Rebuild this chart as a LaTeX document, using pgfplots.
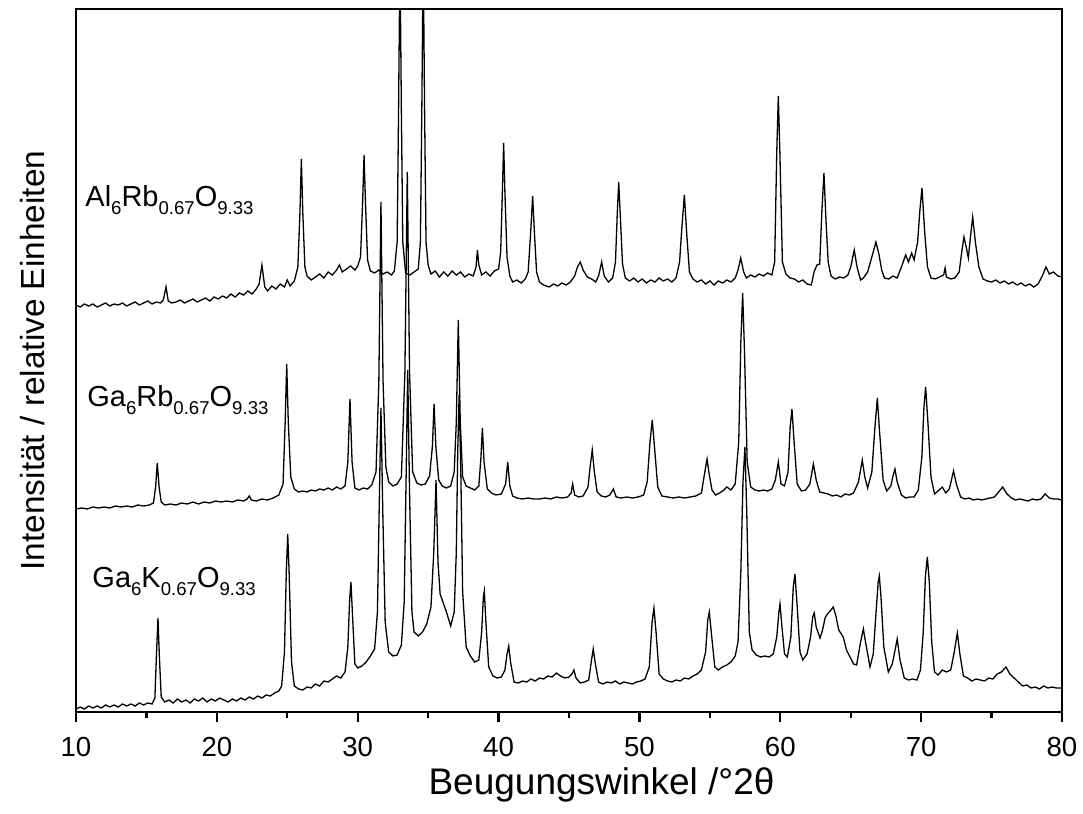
\documentclass[border=0pt]{standalone}
\usepackage{pgfplots}
\pgfplotsset{compat=1.18}
\usepackage{fontspec}
\setmainfont{Liberation Sans}
\newcommand\sub[1]{\raisebox{-4pt}{\fontsize{9.3}{11}\selectfont #1}}
\begin{document}
\begin{tikzpicture}
\begin{axis}[
  width=493pt, height=351.5pt, scale only axis,
  xmin=10, xmax=80, ymin=0, ymax=703,
  xtick={10,20,...,80}, minor xtick={15,25,...,75},
  ytick=\empty,
  xtick pos=bottom, tick align=outside,
  major tick length=5pt, minor tick length=3.2pt,
  axis line style={line width=1.2pt},
  every tick/.style={line width=1.2pt, black},
  tick label style={font=\fontsize{13.8}{16}\selectfont},
  xticklabel style={yshift=-4pt},
  /pgf/number format/assume math mode=true,
  xlabel={Beugungswinkel /°2θ},
  ylabel={Intensität / relative Einheiten},
  xlabel style={font=\fontsize{18.5}{21}\selectfont, at={(axis description cs:0.533,-0.069)}, anchor=north},
  ylabel style={font=\fontsize{16.7}{20}\selectfont, at={(axis description cs:-0.024,0.5)}, anchor=south},
  clip=true,
]
\coordinate (bl) at (rel axis cs:0,0);
\coordinate (tr) at (rel axis cs:1,1);
% Al6Rb0.67O9.33
\addplot[black, no markers, line width=0.65pt] table {
10.0 407
10.3 405
10.6 408
10.9 406
11.2 408
11.5 405
11.8 407
12.1 409
12.4 406
12.7 408
13.0 407
13.3 409
13.6 406
13.9 408
14.2 410
14.5 407
14.8 409
15.1 411
15.4 408
15.7 410
16.0 409
16.2 412
16.39 425
16.55 411
16.8 409
17.1 410
17.4 412
17.7 409
18.0 411
18.3 413
18.6 410
18.9 412
19.2 414
19.5 411
19.8 415
20.1 413
20.4 416
20.7 414
21.0 418
21.3 415
21.6 419
21.9 417
22.2 421
22.5 418
22.8 423
23.0 428
23.2 447
23.4 425
23.6 421
23.9 426
24.2 423
24.5 428
24.8 425
25.0 432
25.2 426
25.5 431
25.75 445
25.9 500
26.0 553
26.1 500
26.25 445
26.4 436
26.7 432
27.0 435
27.3 438
27.6 434
27.9 440
28.2 437
28.5 442
28.7 447
28.9 440
29.2 443
29.5 446
29.8 442
30.0 446
30.2 455
30.35 510
30.45 557
30.55 510
30.7 452
30.9 441
31.2 439
31.5 442
31.8 438
32.1 440
32.4 437
32.6 441
32.8 470
32.9 600
33.0 760
33.1 600
33.2 470
33.4 439
33.7 437
34.0 440
34.3 443
34.45 470
34.55 600
34.65 760
34.75 600
34.85 470
35.0 447
35.2 438
35.5 441
35.8 435
36.1 440
36.4 436
36.7 441
37.0 437
37.3 440
37.6 435
37.9 438
38.2 436
38.4 445
38.5 462
38.6 447
38.8 437
39.1 440
39.4 436
39.7 441
40.0 443
40.15 460
40.27 520
40.36 569
40.45 520
40.6 455
40.8 436
41.0 430
41.3 432
41.6 429
41.9 433
42.1 440
42.28 480
42.42 516
42.55 478
42.7 440
42.9 430
43.2 427
43.6 425
43.9 428
44.2 426
44.5 429
44.8 427
45.1 430
45.4 436
45.6 445
45.8 450
46.0 442
46.3 435
46.6 433
46.9 430
47.1 436
47.32 450
47.5 436
47.8 430
48.1 434
48.3 450
48.43 500
48.53 530
48.63 500
48.8 448
49.0 434
49.3 431
49.6 434
49.9 430
50.2 433
50.5 429
50.8 432
51.1 430
51.4 434
51.7 431
52.0 433
52.3 430
52.6 434
52.85 450
53.0 482
53.19 517
53.35 480
53.55 440
53.8 433
54.1 430
54.4 432
54.7 428
55.0 431
55.3 427
55.6 431
55.9 429
56.2 432
56.5 430
56.8 434
57.0 442
57.19 454
57.4 440
57.6 434
57.9 437
58.2 435
58.5 438
58.8 436
59.1 439
59.4 437
59.6 450
59.75 560
59.86 616
59.97 560
60.15 450
60.4 438
60.7 434
61.0 433
61.3 430
61.6 432
61.9 428
62.2 427
62.4 440
62.6 447
62.8 448
62.95 500
63.1 539
63.25 490
63.4 450
63.6 436
63.9 433
64.2 435
64.5 434
64.8 437
65.0 445
65.25 462
65.45 445
65.7 432
65.9 434
66.2 440
66.5 455
66.79 470
67.0 458
67.2 442
67.4 434
67.7 433
68.0 436
68.3 434
68.6 445
68.9 457
69.1 450
69.33 459
69.5 452
69.75 470
69.9 500
70.06 524
70.25 480
70.45 445
70.7 434
71.0 433
71.3 435
71.6 437
71.7 444
71.8 435
72.1 433
72.4 434
72.7 440
72.9 462
73.04 475
73.2 465
73.35 454
73.5 475
73.66 495
73.85 470
74.1 445
74.4 433
74.7 431
75.0 430
75.3 432
75.6 429
75.9 431
76.2 428
76.5 430
76.8 427
77.1 429
77.4 426
77.7 428
78.0 425
78.3 428
78.6 436
78.86 445
79.1 438
79.4 440
79.7 436
80.0 435
};
% Ga6Rb0.67O9.33
\addplot[black, no markers, line width=0.65pt] table {
10.0 203
10.4 204
10.8 203
11.2 205
11.6 204
12.0 205
12.4 204
12.8 206
13.2 205
13.6 206
14.0 205
14.4 207
14.8 206
15.2 207
15.5 209
15.65 225
15.77 249
15.9 225
16.05 210
16.3 207
16.7 208
17.1 207
17.5 209
17.9 208
18.3 210
18.7 208
19.1 210
19.5 209
19.9 211
20.3 210
20.7 211
21.1 210
21.5 212
21.9 211
22.15 213
22.3 216
22.45 212
22.8 211
23.2 213
23.6 212
24.0 214
24.4 217
24.7 228
24.85 290
24.96 348
25.07 290
25.25 235
25.5 223
25.8 220
26.1 221
26.4 220
26.7 222
27.0 221
27.3 223
27.6 222
27.9 224
28.2 222
28.5 225
28.8 223
29.1 226
29.3 250
29.45 313
29.6 250
29.8 224
30.1 222
30.4 224
30.7 223
31.0 227
31.3 240
31.5 330
31.65 510
31.8 330
32.0 245
32.2 230
32.5 226
32.8 228
33.1 235
33.35 340
33.52 540
33.68 340
33.9 240
34.2 229
34.5 227
34.8 228
35.1 236
35.3 265
35.42 308
35.55 265
35.75 232
36.0 226
36.3 224
36.6 226
36.85 240
37.0 290
37.14 392
37.28 290
37.45 235
37.7 226
38.0 224
38.3 222
38.6 226
38.75 255
38.85 284
38.97 250
39.2 223
39.5 219
39.8 217
40.2 218
40.5 228
40.65 250
40.8 226
41.0 216
41.3 214
41.7 213
42.1 214
42.5 213
42.9 213
43.3 214
43.7 213
44.1 215
44.5 214
44.9 215
45.15 219
45.26 228
45.4 217
45.7 215
46.0 216
46.35 225
46.5 245
46.65 262
46.8 240
47.0 220
47.3 216
47.6 215
47.9 217
48.15 223
48.35 215
48.7 214
49.1 215
49.5 214
49.9 215
50.3 217
50.55 230
50.75 270
50.91 292
51.07 265
51.3 225
51.6 216
52.0 215
52.4 214
52.8 215
53.2 214
53.6 215
54.0 216
54.4 219
54.62 238
54.8 253
54.95 238
55.15 222
55.4 217
55.7 219
56.0 222
56.2 225
56.5 222
56.8 228
57.05 270
57.2 370
57.33 419
57.46 360
57.65 250
57.9 225
58.2 222
58.5 221
58.8 222
59.1 221
59.4 223
59.65 232
59.86 250
60.05 228
60.3 226
60.55 240
60.7 285
60.83 303
60.98 270
61.2 228
61.5 221
61.8 222
62.1 228
62.35 248
62.55 232
62.8 220
63.1 219
63.4 218
63.7 216
64.0 217
64.3 215
64.6 218
64.9 217
65.2 219
65.55 230
65.82 252
66.0 235
66.2 224
66.5 240
66.72 285
66.89 314
67.05 280
67.3 232
67.55 221
67.85 226
68.0 236
68.14 243
68.3 230
68.6 217
68.9 214
69.2 215
69.5 215
69.8 222
70.05 255
70.2 305
70.32 325
70.48 290
70.7 235
70.95 218
71.2 221
71.5 225
71.75 219
72.0 223
72.15 232
72.3 241
72.5 228
72.8 215
73.1 213
73.4 214
73.7 212
74.0 213
74.3 212
74.6 213
74.9 214
75.2 215
75.5 220
75.79 225
76.1 218
76.4 214
76.7 212
77.0 213
77.3 212
77.6 211
77.9 213
78.2 212
78.5 213
78.8 218
79.1 214
79.4 213
79.7 213
80.0 212
};
% Ga6K0.67O9.33
\addplot[black, no markers, line width=0.65pt] table {
10.0 3
10.3 5
10.6 3
10.9 6
11.2 4
11.5 6
11.8 4
12.1 7
12.4 5
12.7 7
13.0 5
13.3 8
13.6 6
13.9 8
14.2 6
14.5 9
14.8 7
15.1 9
15.4 8
15.6 14
15.72 60
15.82 94
15.92 55
16.05 15
16.3 10
16.6 12
16.9 9
17.2 13
17.5 10
17.8 12
18.1 9
18.4 13
18.7 11
19.0 14
19.3 10
19.6 13
19.9 11
20.2 14
20.5 12
20.8 10
21.1 13
21.4 11
21.7 14
22.0 12
22.3 15
22.6 13
22.9 16
23.2 14
23.5 17
23.8 16
24.1 19
24.4 21
24.6 26
24.8 60
24.93 140
25.03 178
25.13 140
25.3 50
25.5 26
25.8 23
26.1 22
26.4 25
26.7 24
27.0 28
27.3 26
27.6 31
27.9 30
28.2 33
28.5 36
28.8 34
29.1 40
29.3 65
29.42 110
29.52 130
29.62 100
29.8 48
30.0 44
30.3 46
30.6 50
30.9 56
31.2 63
31.4 100
31.52 200
31.65 304
31.78 200
31.95 90
32.2 60
32.5 56
32.8 57
33.1 67
33.3 110
33.42 220
33.55 342
33.68 220
33.85 100
34.0 80
34.3 76
34.6 80
34.9 88
35.2 105
35.4 160
35.56 232
35.7 150
35.85 118
36.05 110
36.3 100
36.6 86
36.85 100
37.0 160
37.1 260
37.2 317
37.32 240
37.45 120
37.7 65
38.0 56
38.3 50
38.6 52
38.8 80
38.92 115
38.99 121
39.1 90
39.3 45
39.6 36
39.9 34
40.2 35
40.45 42
40.6 58
40.72 66
40.85 50
41.1 30
41.4 29
41.7 31
42.0 30
42.3 33
42.6 31
42.9 34
43.2 33
43.5 36
43.8 35
44.1 39
44.4 36
44.7 34
45.0 35
45.2 38
45.35 42
45.5 34
45.8 29
46.1 30
46.4 32
46.6 52
46.72 63
46.85 50
47.1 30
47.4 28
47.7 30
48.0 29
48.3 31
48.6 28
48.9 30
49.2 29
49.5 28
49.8 30
50.1 31
50.4 33
50.7 45
50.9 90
51.03 104
51.18 80
51.4 38
51.7 33
52.0 31
52.3 30
52.6 32
52.9 31
53.2 34
53.5 33
53.8 36
54.1 38
54.4 42
54.7 60
54.85 92
54.96 100
55.1 80
55.35 45
55.6 42
55.9 45
56.2 47
56.5 50
56.8 56
57.0 70
57.2 140
57.35 230
57.49 265
57.62 200
57.8 80
58.0 62
58.3 57
58.6 55
58.9 56
59.2 55
59.5 58
59.75 75
59.9 100
59.98 108
60.1 88
60.3 58
60.5 55
60.75 75
60.92 125
61.04 138
61.18 110
61.4 60
61.6 52
61.9 58
62.15 75
62.3 95
62.41 99
62.55 85
62.82 74
63.0 82
63.2 95
63.41 99
63.6 102
63.76 105
63.95 96
64.15 82
64.47 75
64.7 62
64.95 55
65.2 48
65.42 47
65.7 70
65.9 83
66.05 70
66.37 45
66.6 58
66.85 110
66.95 130
67.03 136
67.15 115
67.35 65
67.67 40
67.95 48
68.15 62
68.3 73
68.5 52
68.8 34
69.1 32
69.4 33
69.7 32
69.95 42
70.15 80
70.3 135
70.44 155
70.58 130
70.75 70
70.95 40
71.2 37
71.5 42
71.8 40
72.1 42
72.35 60
72.57 79
72.75 58
73.0 36
73.3 34
73.6 31
73.9 33
74.2 32
74.5 31
74.8 34
75.1 33
75.4 38
75.7 40
76.02 45
76.3 38
76.6 34
76.9 30
77.2 26
77.5 27
77.8 24
78.1 25
78.4 23
78.7 26
79.0 24
79.3 25
79.6 24
80.0 24
};
\node[anchor=base west, inner sep=0pt, font=\fontsize{14.5}{17}\selectfont] at (axis cs:10.64,505) {Al\sub{6}Rb\sub{0.67}O\sub{9.33}};
\node[anchor=base west, inner sep=0pt, font=\fontsize{14.5}{17}\selectfont] at (axis cs:10.78,305) {Ga\sub{6}Rb\sub{0.67}O\sub{9.33}};
\node[anchor=base west, inner sep=0pt, font=\fontsize{14.5}{17}\selectfont] at (axis cs:11.14,124) {Ga\sub{6}K\sub{0.67}O\sub{9.33}};
\end{axis}
\pgfresetboundingbox
\path ([xshift=-38pt,yshift=-51pt]bl) rectangle ([xshift=10.5pt,yshift=4.5pt]tr);
\end{tikzpicture}
\end{document}
